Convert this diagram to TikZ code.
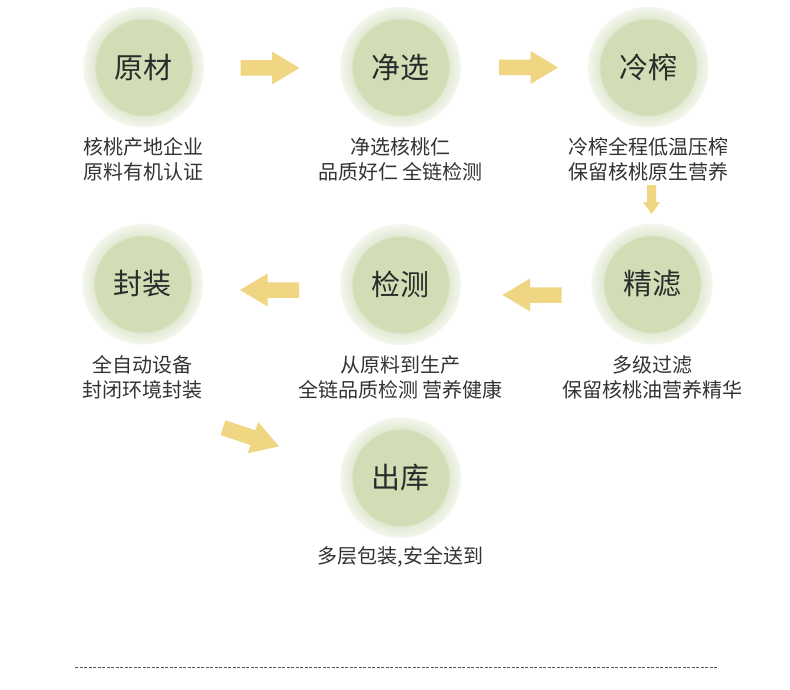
\documentclass[tikz,border=0pt]{standalone}
\usepackage{fontspec}
\setmainfont{Noto Sans CJK SC}
\usetikzlibrary{calc}
\definecolor{diskc}{HTML}{D0DDB5}
\definecolor{haloA}{HTML}{E2E9D3}
\definecolor{haloB}{HTML}{F4F7EE}
\definecolor{arrowc}{HTML}{F0D582}
\definecolor{txtc}{HTML}{2B2B2B}
\definecolor{capc}{HTML}{333333}
\definecolor{dashc}{HTML}{555555}
\pgfdeclareradialshading{halo}{\pgfpoint{0bp}{0bp}}{color(0bp)=(diskc); color(19.9bp)=(diskc); color(20.05bp)=(haloA); color(25bp)=(haloB); color(25.3bp)=(white); color(50bp)=(white)}
\tikzset{
  stepnode/.style={circle, minimum size=121pt, inner sep=0pt, shade, shading=halo,
    font=\fontsize{29}{29}\selectfont, text=txtc},
  capnode/.style={align=center, font=\fontsize{20}{25}\selectfont, text=capc},
  barrow/.pic={\fill[arrowc] (-29.5,-7.75) -- (2,-7.75) -- (2,-16.5) -- (29.5,0) -- (2,16.5) -- (2,7.75) -- (-29.5,7.75) -- cycle;},
  sarrow/.pic={\fill[arrowc] (-14.5,-4.5) -- (2.5,-4.5) -- (2.5,-8.5) -- (14.5,0) -- (2.5,8.5) -- (2.5,4.5) -- (-14.5,4.5) -- cycle;},
  dashline/.style={draw=dashc, line width=0.9pt, dash pattern=on 3pt off 1.5pt}
}
\begin{document}
\begin{tikzpicture}[x=1pt,y=-1pt]
\useasboundingbox (0,0) rectangle (790,690);
\fill[white] (0,0) rectangle (790,690);
% steps
\node[stepnode] (yc) at (143.5,67) {原材};
\node[stepnode] (jx) at (400.5,67) {净选};
\node[stepnode] (lz) at (648,67) {冷榨};
\node[stepnode] (fz) at (142.5,284) {封装};
\node[stepnode] (jc) at (400.5,284.5) {检测};
\node[stepnode] (jl) at (652,284) {精滤};
\node[stepnode] (ck) at (400.5,477.5) {出库};
% captions
\node[capnode] (yccap) at ($(yc)+(0,92.5)$) {核桃产地企业\\原料有机认证};
\node[capnode] (jxcap) at ($(jx)+(0,92.5)$) {净选核桃仁\\品质好仁 全链检测};
\node[capnode] (lzcap) at ($(lz)+(0,92.5)$) {冷榨全程低温压榨\\保留核桃原生营养};
\node[capnode] (fzcap) at ($(fz)+(0,93)$) {全自动设备\\封闭环境封装};
\node[capnode] (jccap) at ($(jc)+(0,92.5)$) {从原料到生产\\全链品质检测 营养健康};
\node[capnode] (jlcap) at ($(jl)+(0,93)$) {多级过滤\\保留核桃油营养精华};
\node[capnode] (ckcap) at ($(ck)+(0,79)$) {多层包装,安全送到};
% arrows
\pic at (270,68) {barrow};
\pic at (528.5,67.5) {barrow};
\pic[rotate=-90] at (651.5,199.5) {sarrow};
\pic[rotate=180] at (532,295) {barrow};
\pic[rotate=180] at (269.5,290) {barrow};
\pic[rotate=-18.4] at (251,437) {barrow};
% dashed rule
\coordinate (dl1) at (75,667.5);
\coordinate (dl2) at (717,667.5);
\draw[dashline] (dl1) -- (dl2);
\end{tikzpicture}
\end{document}
